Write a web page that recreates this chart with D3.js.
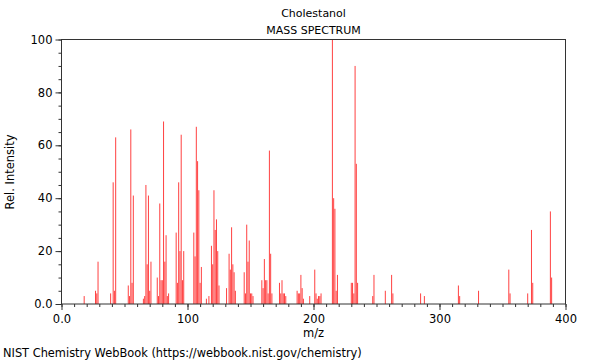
<!DOCTYPE html>
<html><head><meta charset="utf-8">
<script src="https://cdn.jsdelivr.net/npm/d3@7"></script>
<style>body{margin:0;background:#fff;}svg{display:block;}text{font-family:"DejaVu Sans",sans-serif;}</style>
</head><body><svg id="c" width="600" height="360"></svg>
<script>
const title = "Cholestanol";
const subtitle = "MASS SPECTRUM";
const xLabel = "m/z";
const yLabel = "Rel. Intensity";
const footer = "NIST Chemistry WebBook (https://webbook.nist.gov/chemistry)";
const mz = [18,27,28,29,39,41,42,43,53,54,55,56,57,65,66,67,68,69,70,71,76,77,78,79,80,81,82,83,84,85,
  91,92,93,94,95,96,97,105,106,107,108,109,110,111,115,117,119,120,121,122,123,124,125,
  131,133,134,135,136,137,138,145,146,147,148,149,150,151,152,159,160,161,162,163,164,165,166,167,
  173,174,175,176,177,178,187,188,189,190,191,192,197,201,202,203,204,205,206,
  215,216,217,218,219,230,231,232,233,234,235,247,248,257,262,263,285,288,315,316,331,355,356,370,373,374,388,389];
const intensity = [3,5,4,16,4,46,5,63,7,3,66,8,41,2,3,45,15,41,5,16,10,3,38,9,9,69,16,26,3,4,
  27,8,46,20,64,9,20,27,18,67,54,43,8,14,2,3,22,15,43,28,32,20,7,
  6,19,13,29,15,12,5,12,4,30,16,24,4,4,3,9,6,17,9,9,4,58,19,4,
  8,4,9,4,4,3,5,4,4,11,6,2,3,13,4,2,3,3,4,
  100,40,36,5,11,8,8,4,90,53,8,3,11,5,11,4,4,3,7,3,5,13,4,4,28,8,35,10];
const xTicks = [0,100,200,300,400];
const yTicks = [0,20,40,60,80,100];

const svg = d3.select("#c");
const x = d3.scaleLinear().domain([0,400]).range([61.5,565.5]);
const y = d3.scaleLinear().domain([0,100]).range([304,39.5]);
const ink = "#333";

// bars
svg.append("g").selectAll("line").data(mz.map((m,i)=>({m,v:intensity[i]}))).join("line")
  .attr("x1",d=>x(d.m)).attr("x2",d=>x(d.m))
  .attr("y1",y(0)).attr("y2",d=>y(d.v))
  .attr("stroke","#ff0000").attr("stroke-opacity",0.75).attr("stroke-width",1);

// frame
svg.append("rect").attr("x",61.5).attr("y",39.5).attr("width",504).attr("height",264.5)
  .attr("fill","none").attr("stroke",ink).attr("stroke-width",1);

// x axis
const xa = d3.axisBottom(x).tickValues(xTicks).tickFormat(d=>d===0?"0.0":d).tickSize(6).tickPadding(5);
const gx = svg.append("g").attr("transform","translate(0,304)").call(xa);
gx.select(".domain").remove();
const xMinor = d3.axisBottom(x).tickValues(d3.range(0,401,10)).tickFormat("").tickSize(3);
const gxm = svg.append("g").attr("transform","translate(0,304)").call(xMinor);
gxm.select(".domain").remove();
// y axis
const ya = d3.axisLeft(y).tickValues(yTicks).tickFormat(d=>d===0?"0.0":d).tickSize(6).tickPadding(3);
const gy = svg.append("g").attr("transform","translate(61.5,0)").call(ya);
gy.select(".domain").remove();
const yMinor = d3.axisLeft(y).tickValues(d3.range(0,101,5)).tickFormat("").tickSize(3);
const gym = svg.append("g").attr("transform","translate(61.5,0)").call(yMinor);
gym.select(".domain").remove();
svg.selectAll(".tick line").attr("stroke",ink);
svg.selectAll(".tick text").attr("font-size",11.5).attr("fill","#000").style("font-family","DejaVu Sans");

svg.append("text").attr("x",313.5).attr("y",17).attr("text-anchor","middle").attr("font-size",11).text(title);
svg.append("text").attr("x",313.5).attr("y",34).attr("text-anchor","middle").attr("font-size",11).text(subtitle);
svg.append("text").attr("x",313.5).attr("y",337).attr("text-anchor","middle").attr("font-size",11.5).text(xLabel);
svg.append("text").attr("transform","translate(14,172) rotate(-90)").attr("text-anchor","middle").attr("font-size",11.5).text(yLabel);
svg.append("text").attr("x",3).attr("y",357).attr("font-size",11.4).text(footer);
</script></body></html>
